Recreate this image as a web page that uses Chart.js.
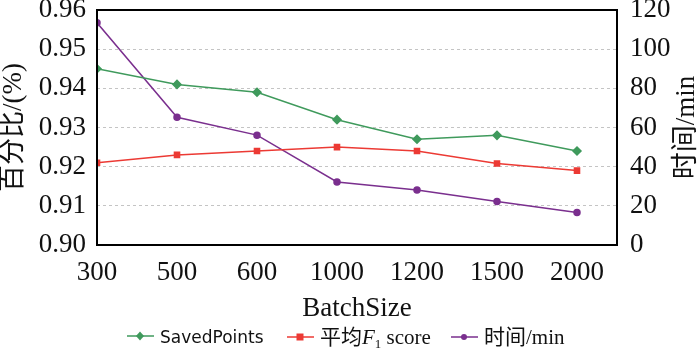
<!DOCTYPE html>
<html>
<head>
<meta charset="utf-8">
<script src="https://cdn.jsdelivr.net/npm/chart.js@4/dist/chart.umd.min.js"></script>
<style>
    html, body { margin: 0; padding: 0; background: #fff; }
    #wrap { position: relative; width: 700px; height: 348px; }
    #chart { position: absolute; left: 0; top: 0; }
    #legend {
        position: absolute; left: 0; top: 325px; width: 700px; height: 24px;
        font: 17px "DejaVu Sans", sans-serif; color: #111;
    }
    #legend .item { position: absolute; top: 0; white-space: nowrap; line-height: 24px; }
    #legend svg { vertical-align: middle; margin-right: 6px; position: relative; top: -2px; }
    #legend .serif { font-family: "Liberation Serif", "Noto Sans CJK SC", serif; font-size: 21px; }
    #legend sub { font-size: 13px; vertical-align: -4px; }
</style>
</head>
<body>
<div id="wrap">
    <canvas id="chart" width="700" height="326"></canvas>
    <div id="legend"></div>
</div>
<script>
'use strict';

/* ─── DATOS ─────────────────────────────────────────────────────────── */
const batchSizes  = ['300', '500', '600', '1000', '1200', '1500', '2000'];
const savedPoints = [0.945, 0.941, 0.939, 0.932, 0.927, 0.928, 0.924];
const f1Score     = [0.921, 0.923, 0.924, 0.925, 0.924, 0.9208, 0.919];
const tiempoMin   = [113.5, 65.2, 56.1, 32.2, 28.1, 22.2, 16.6];

const leftTicks  = [0.90, 0.91, 0.92, 0.93, 0.94, 0.95, 0.96];
const rightTicks = [0, 20, 40, 60, 80, 100, 120];

const SERIF = '"Liberation Serif", "Noto Sans CJK SC", serif';

const toPoints = arr => arr.map((v, i) => ({ x: i, y: v }));

/* ─── PLUGINS ───────────────────────────────────────────────────────── */
// marco negro alrededor del área del gráfico + título derecho girado
const marco = {
    id: 'marco',
    afterDraw(chart) {
        const { ctx, chartArea: a } = chart;
        ctx.save();
        ctx.strokeStyle = '#000';
        ctx.lineWidth = 2;
        ctx.strokeRect(a.left, a.top, a.right - a.left, a.bottom - a.top);

        ctx.translate(687, (a.top + a.bottom) / 2);
        ctx.rotate(-Math.PI / 2);
        ctx.font = '27px ' + SERIF;
        ctx.fillStyle = '#111';
        ctx.textAlign = 'center';
        ctx.textBaseline = 'middle';
        ctx.fillText('时间/min', 0, 0);
        ctx.restore();
    }
};

/* ─── GRÁFICO ───────────────────────────────────────────────────────── */
const chart = new Chart(document.getElementById('chart'), {
    type: 'line',
    data: {
        datasets: [
            {
                label: 'SavedPoints',
                data: toPoints(savedPoints),
                yAxisID: 'y',
                borderColor: '#3f9a5c',
                backgroundColor: '#3f9a5c',
                borderWidth: 1.5,
                pointStyle: 'rectRot',
                pointRadius: 4,
                tension: 0
            },
            {
                label: '平均F1 score',
                data: toPoints(f1Score),
                yAxisID: 'y',
                borderColor: '#ec3a34',
                backgroundColor: '#ec3a34',
                borderWidth: 1.5,
                pointStyle: 'rect',
                pointRadius: 3.6,
                tension: 0
            },
            {
                label: '时间/min',
                data: toPoints(tiempoMin),
                yAxisID: 'y1',
                borderColor: '#7a2f8e',
                backgroundColor: '#7a2f8e',
                borderWidth: 1.5,
                pointStyle: 'circle',
                pointRadius: 3,
                tension: 0
            }
        ]
    },
    options: {
        responsive: false,
        animation: false,
        layout: { padding: { top: 10, left: 0, right: 0, bottom: 0 } },
        plugins: {
            legend: { display: false },
            tooltip: { enabled: false }
        },
        scales: {
            x: {
                type: 'linear',
                min: 0,
                max: 6.5,
                grid: { display: false, drawTicks: false },
                border: { display: false },
                ticks: {
                    stepSize: 1,
                    includeBounds: false,
                    autoSkip: false,
                    maxRotation: 0,
                    padding: 12,
                    color: '#111',
                    font: { family: SERIF, size: 27 },
                    callback: v => Number.isInteger(v) ? batchSizes[v] : ''
                },
                title: {
                    display: true,
                    text: 'BatchSize',
                    color: '#111',
                    font: { family: SERIF, size: 27, lineHeight: 1.2 },
                    padding: { top: 0, bottom: 1 }
                },
                afterFit: s => { s.height = 81; s.paddingLeft = 0; s.paddingRight = 0; }
            },
            y: {
                position: 'left',
                min: leftTicks[0],
                max: leftTicks[leftTicks.length - 1],
                afterBuildTicks: s => { s.ticks = leftTicks.map(v => ({ value: v })); },
                grid: {
                    drawTicks: false,
                    color: ctx => (ctx.tick && (ctx.index === 0 || ctx.index === leftTicks.length - 1)) ? 'rgba(0,0,0,0)' : '#c4c4c4',
                    lineWidth: 1
                },
                border: { display: false, dash: [3, 3] },
                ticks: {
                    padding: 11,
                    color: '#111',
                    font: { family: SERIF, size: 27 },
                    callback: v => v.toFixed(2)
                },
                title: {
                    display: true,
                    text: '百分比/(%)',
                    color: '#111',
                    font: { family: SERIF, size: 27, lineHeight: 1.0 },
                    padding: 0
                },
                afterFit: s => { s.width = 97; s.paddingTop = 0; s.paddingBottom = 0; }
            },
            y1: {
                position: 'right',
                min: rightTicks[0],
                max: rightTicks[rightTicks.length - 1],
                afterBuildTicks: s => { s.ticks = rightTicks.map(v => ({ value: v })); },
                grid: { display: false, drawTicks: false },
                border: { display: false },
                ticks: {
                    padding: 13,
                    color: '#111',
                    font: { family: SERIF, size: 27 }
                },
                afterFit: s => { s.width = 83; s.paddingTop = 0; s.paddingBottom = 0; }
            }
        }
    },
    plugins: [marco]
});

/* ─── LEYENDA HTML ──────────────────────────────────────────────────── */
const leyendaX    = [127, 287, 451];
const leyendaHtml = [
    'SavedPoints',
    '<span class="serif">平均<i>F</i><sub>1</sub> score</span>',
    '<span class="serif">时间/min</span>'
];

function marcador(ds) {
    const c = ds.borderColor;
    let m = '';
    if (ds.pointStyle === 'rectRot') {
        m = `<polygon points="13,0.5 17,5 13,9.5 9,5" fill="${c}"/>`;
    } else if (ds.pointStyle === 'rect') {
        m = `<rect x="9.5" y="1.5" width="7" height="7" fill="${c}"/>`;
    } else {
        m = `<circle cx="13" cy="5" r="3" fill="${c}"/>`;
    }
    return `<svg width="27" height="10"><line x1="0" y1="5" x2="27" y2="5" stroke="${c}" stroke-width="1.5"/>${m}</svg>`;
}

const leyenda = document.getElementById('legend');
chart.data.datasets.forEach((ds, i) => {
    const item = document.createElement('span');
    item.className = 'item';
    item.style.left = leyendaX[i] + 'px';
    item.innerHTML = marcador(ds) + leyendaHtml[i];
    leyenda.appendChild(item);
});
</script>
</body>
</html>
